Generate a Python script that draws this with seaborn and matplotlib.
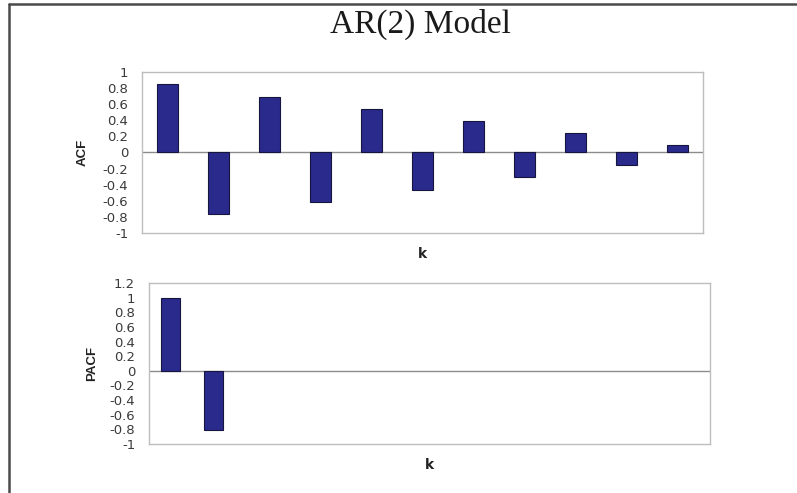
import matplotlib
matplotlib.use("Agg")
import matplotlib.pyplot as plt
import seaborn as sns
import pandas as pd
from matplotlib.lines import Line2D

# Autocorrelation and partial autocorrelation of an AR(2) process
acf_lags = list(range(1, 12))
acf_values = [0.85, -0.77, 0.69, -0.62, 0.54, -0.47, 0.39, -0.31, 0.24, -0.16, 0.09]

pacf_lags = list(range(1, 14))
pacf_nonzero_lags = [1, 2]
pacf_values = [1.0, -0.81]

acf_ticks = [-1, -0.8, -0.6, -0.4, -0.2, 0, 0.2, 0.4, 0.6, 0.8, 1]
pacf_ticks = [-1, -0.8, -0.6, -0.4, -0.2, 0, 0.2, 0.4, 0.6, 0.8, 1, 1.2]

bar_color = "#2a2a8c"
edge_color = "#15153f"
spine_color = "#bdbdbd"
tick_color = "#3a3a3a"


def fmt(v):
    return f"{v:g}"


sns.set_theme(style="white")
plt.rcParams["font.family"] = ["DejaVu Sans"]

fig = plt.figure(figsize=(7.97, 4.93), dpi=100)
fig.patch.set_facecolor("white")

ax1 = fig.add_axes([0.1782, 0.5274, 0.8821 - 0.1782, 0.8540 - 0.5274])
ax2 = fig.add_axes([0.1870, 0.0994, 0.8908 - 0.1870, 0.4260 - 0.0994])

acf_df = pd.DataFrame({"k": acf_lags, "ACF": acf_values})
pacf_df = pd.DataFrame({"k": pacf_nonzero_lags, "PACF": pacf_values})

sns.barplot(data=acf_df, x="k", y="ACF", order=acf_lags, ax=ax1,
            color=bar_color, saturation=1, width=0.42,
            edgecolor=edge_color, linewidth=0.8)
sns.barplot(data=pacf_df, x="k", y="PACF", order=pacf_lags, ax=ax2,
            color=bar_color, saturation=1, width=0.43,
            edgecolor=edge_color, linewidth=0.8)

for ax, ticks, name, n, lpad in [(ax1, acf_ticks, "ACF", len(acf_lags), 10),
                                 (ax2, pacf_ticks, "PACF", len(pacf_lags), 8)]:
    ax.set_xlim(-0.5, n - 0.5)
    ax.set_ylim(ticks[0], ticks[-1])
    ax.set_yticks(ticks)
    ax.set_yticklabels([fmt(t) for t in ticks])
    ax.set_xticks([])
    ax.axhline(0, color="#8c8c8c", lw=1.0, zorder=0.5)
    ax.tick_params(axis="y", length=0, pad=10, labelsize=9.5, labelcolor=tick_color)
    for s in ax.spines.values():
        s.set_color(spine_color)
        s.set_linewidth(1.0)
    ax.set_ylabel(name, fontsize=9.5, fontweight="bold", color="#222222",
                  labelpad=lpad, family="Liberation Sans")
    ax.set_xlabel("k", fontsize=10, fontweight="bold", color="#222222", labelpad=10)

fig.text(0.527, 0.933, "AR(2) Model", ha="center", va="baseline",
         fontsize=24, family="Liberation Serif", color="#1a1a1a")

# Outer frame along the top and left edges
fig.add_artist(Line2D([0.011, 0.011], [0.0, 0.992], transform=fig.transFigure,
                      color="#4a4a4a", lw=1.8))
fig.add_artist(Line2D([0.011, 1.0], [0.992, 0.992], transform=fig.transFigure,
                      color="#4a4a4a", lw=1.8))

fig.savefig("out.png", dpi=100, facecolor="white")
